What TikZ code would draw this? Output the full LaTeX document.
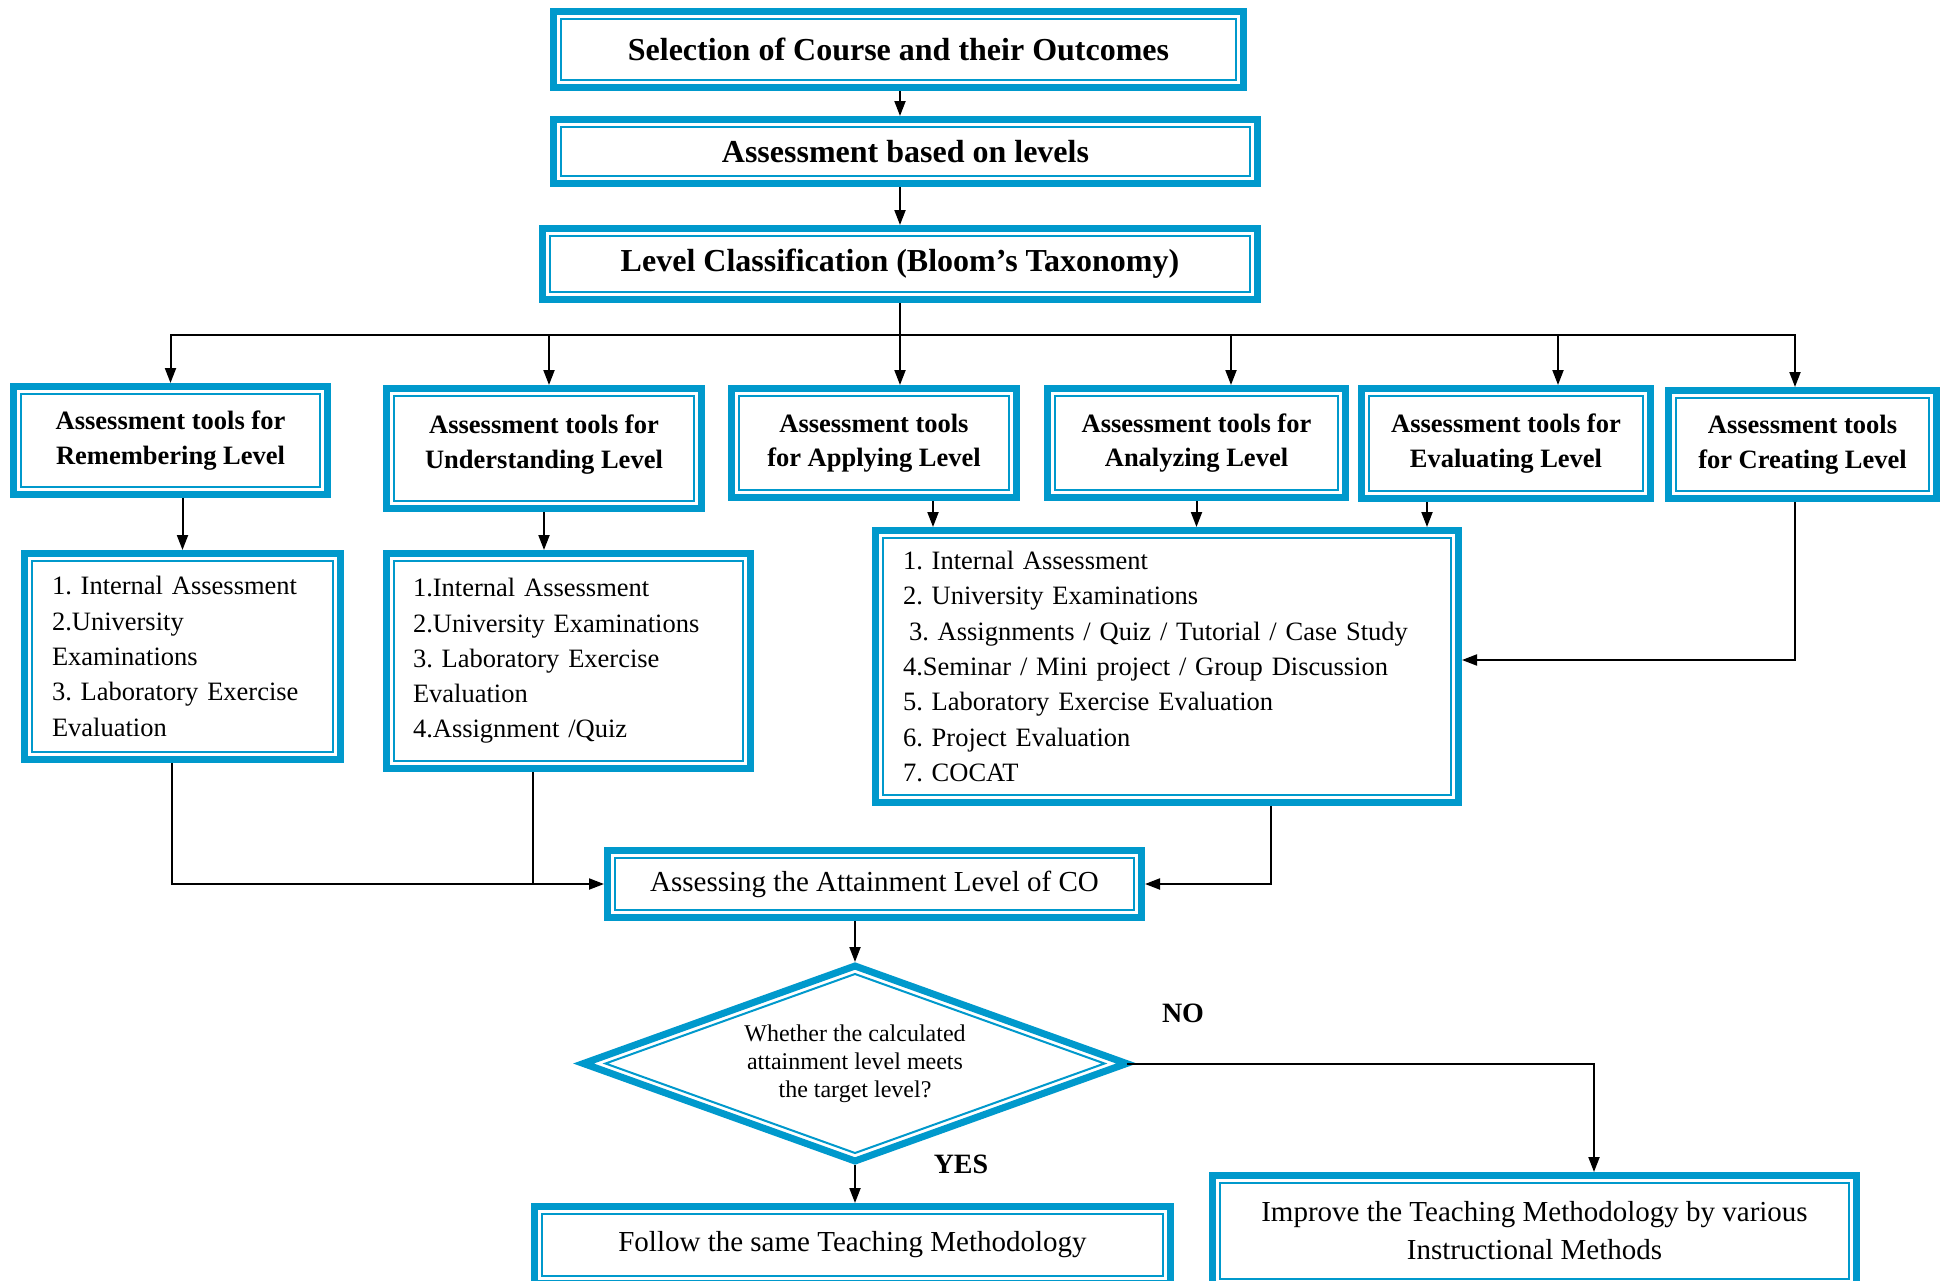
\documentclass[tikz,border=0pt]{standalone}
\usepackage{fontspec}
\setmainfont{Liberation Serif}
\usetikzlibrary{arrows.meta,shapes.geometric,calc}
\definecolor{bl}{RGB}{0,153,204}
\frenchspacing
\newcommand\fTop{\fontsize{32}{38}\selectfont\bfseries}
\newcommand\fLev{\fontsize{26.5}{34.5}\selectfont\bfseries}
\newcommand\fList{\fontsize{26.5}{35.3}\selectfont}
\newcommand\fMid{\fontsize{29}{38}\selectfont}
\newcommand\fDia{\fontsize{24}{28}\selectfont}
\newcommand\fLab{\fontsize{28}{32}\selectfont\bfseries}
\tikzset{
  frame/.style={rectangle, draw=bl, line width=7pt, fill=white, inner sep=0pt, align=center},
  topbox/.style={frame, font=\fTop},
  levbox/.style={frame, font=\fLev},
  midbox/.style={frame, font=\fMid},
  listbox/.style={frame, font=\fList, align=left, inner xsep=27.5pt},
  arr/.style={-{Triangle[length=15pt,width=11pt]}, line width=2pt},
  conn/.style={line width=2pt},
}
\begin{document}
\begin{tikzpicture}[x=1pt,y=-1pt]
\useasboundingbox (0,0) rectangle (1944,1280);
\clip (0,0) rectangle (1944,1280);
\fill[white] (0,0) rectangle (1944,1280);
\coordinate (spine) at (900,0);

% top chain
\node[topbox, minimum width=690, minimum height=76] (sel) at (898.5,49.5) {Selection of Course and their Outcomes};
\node[topbox, minimum width=704, minimum height=64] (abl) at (905.5,151.5) {Assessment based on levels};
\node[topbox, minimum width=715, minimum height=71] (lvl) at (900,264) {Level Classification (Bloom’s Taxonomy)};

% level boxes
\node[levbox, minimum width=314, minimum height=108] (rem) at (170.5,440.5) {Assessment tools for\\Remembering Level};
\node[levbox, minimum width=315, minimum height=120, text depth=14pt] (und) at (544,448.5) {Assessment tools for\\Understanding Level};
\node[levbox, minimum width=285, minimum height=109] (app) at (874,443) {Assessment tools\\for Applying Level};
\node[levbox, minimum width=298, minimum height=109] (ana) at (1196.5,443) {Assessment tools for\\Analyzing Level};
\node[levbox, minimum width=289, minimum height=110] (eva) at (1506,443.5) {Assessment tools for\\Evaluating Level};
\node[levbox, minimum width=268, minimum height=108] (cre) at (1802.5,444.5) {Assessment tools\\for Creating Level};

% tool lists
\node[listbox, text width=261, minimum height=206] (reml) at (182.5,656.5) {1. Internal Assessment\\2.University\\Examinations\\3. Laboratory Exercise\\Evaluation};
\node[listbox, inner xsep=26.5pt, text width=311, minimum height=215] (undl) at (568.5,661) {1.Internal Assessment\\2.University Examinations\\3. Laboratory Exercise\\Evaluation\\4.Assignment /Quiz};
\node[listbox, text width=528, minimum height=272] (big) at (1167,666.5) {1. Internal Assessment\\2. University Examinations\\\hspace*{6pt}3. Assignments / Quiz / Tutorial / Case Study\\4.Seminar / Mini project / Group Discussion\\5. Laboratory Exercise Evaluation\\6. Project Evaluation\\7. COCAT};

% attainment and decision
\node[midbox, minimum width=534, minimum height=67] (att) at (874.5,884) {Assessing the Attainment Level of CO};
\node[diamond, aspect=2.78, draw=bl, line width=7pt, fill=white, outer sep=0pt, inner sep=0pt, line join=miter, minimum width=543, minimum height=195, align=center, font=\fDia] (dia) at (855,1063.5) {Whether the calculated\\attainment level meets\\the target level?};
\node[midbox, minimum width=636, minimum height=77] (fol) at (852.5,1245) {Follow the same Teaching Methodology};
\node[midbox, minimum width=644, minimum height=111] (imp) at (1534.5,1231) {Improve the Teaching Methodology by various\\Instructional Methods};

% inner thin rules of the framed boxes
\foreach \n in {sel,abl,lvl,rem,und,app,ana,eva,cre,reml,undl,big,att,fol,imp}
  \draw[bl, line width=2pt] ([shift={(11,11)}]\n.north west) rectangle ([shift={(-11,-11)}]\n.south east);
\draw[bl, line width=2pt] ([shift={(22,0)}]dia.west) -- ([shift={(0,8)}]dia.north) -- ([shift={(-22,0)}]dia.east) -- ([shift={(0,-8)}]dia.south) -- cycle;

% branch labels
\node[font=\fLab] (no) at (1183,1013) {NO};
\node[font=\fLab] (yes) at (961,1164) {YES};

% connectors
\draw[arr] (sel.south -| spine) -- (abl.north -| spine);
\draw[arr] (abl.south -| spine) -- (lvl.north -| spine);
\coordinate (bus) at (900,335);
\draw[conn] (lvl.south -| spine) -- (bus);
\draw[arr] (bus) -| (rem.north);
\draw[arr] (bus) -| ([xshift=5pt]und.north);
\draw[arr] (bus) -- (app.north -| spine);
\draw[arr] (bus) -| ([xshift=34.5pt]ana.north);
\draw[arr] (bus) -| ([xshift=52pt]eva.north);
\draw[arr] (bus) -| ([xshift=-7.5pt]cre.north);

\draw[arr] (rem.south -| reml.north) -- (reml.north);
\draw[arr] (und.south) -- (und.south |- undl.north);
\draw[arr] ([xshift=59pt]app.south) -- ([xshift=59pt]app.south |- big.north);
\draw[arr] (ana.south) -- (ana.south |- big.north);
\draw[arr] ([xshift=-79pt]eva.south) -- ([xshift=-79pt]eva.south |- big.north);
\draw[arr] ([xshift=-7.5pt]cre.south) |- ([yshift=6.5pt]big.east);

\draw[arr] ([xshift=-10.5pt]reml.south) |- (att.west);
\draw[conn] ([xshift=-35.5pt]undl.south) -- ([xshift=-35.5pt]undl.south |- att.west);
\draw[arr] ([xshift=104pt]big.south) |- (att.east);

\draw[arr, shorten >=4pt] (att.south -| dia.north) -- (dia.north);
\draw[arr, shorten <=4pt] (dia.south) -- (dia.south |- fol.north);
\draw[arr] (dia.east) -| ([xshift=59.5pt]imp.north);
\end{tikzpicture}
\end{document}
